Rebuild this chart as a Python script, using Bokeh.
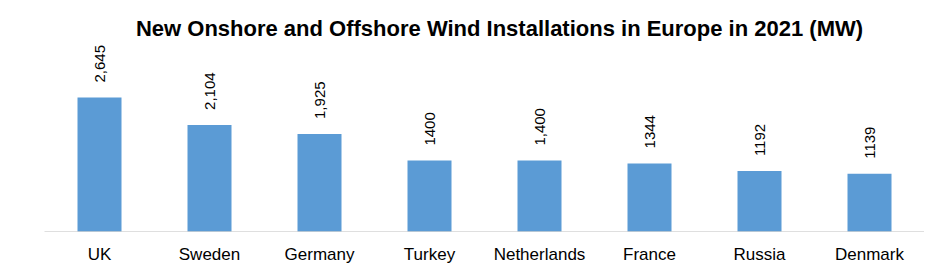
from bokeh.plotting import figure
from bokeh.models import ColumnDataSource, FactorRange, Range1d, Label, Span
from bokeh.embed import file_html
from bokeh.resources import INLINE
from bokeh.core.properties import value
import math

countries = ["UK", "Sweden", "Germany", "Turkey", "Netherlands", "France", "Russia", "Denmark"]
installs = [2645, 2104, 1925, 1400, 1400, 1344, 1192, 1139]
value_labels = ["2,645", "2,104", "1,925", "1400", "1,400", "1344", "1192", "1139"]
title_text = "New Onshore and Offshore Wind Installations in Europe in 2021 (MW)"

src = ColumnDataSource(dict(x=countries, top=installs, lbl=value_labels,
                            base=[0] * len(countries)))

p = figure(width=941, height=263, output_backend="svg", toolbar_location=None,
           x_range=FactorRange(factors=countries, range_padding=0),
           y_range=Range1d(-632, 4560), title=None,
           x_axis_location=None, y_axis_location=None,
           min_border_left=44, min_border_right=17, min_border_top=0, min_border_bottom=0)

p.vbar(x="x", top="top", width=0.4, source=src, color="#5B9BD5", line_color=None)
p.text(x="x", y="top", text="lbl", source=src, angle=math.pi / 2,
       text_align="left", text_baseline="middle", y_offset=-15,
       text_font=value("Liberation Sans"), text_font_size="15px", text_color="#000000")

p.add_layout(Span(location=0, dimension="width", line_color="#bfbfbf",
                  line_dash="1 1", line_width=1))

p.text(x="x", y="base", text="x", source=src, text_align="center",
       text_baseline="top", y_offset=14,
       text_font=value("Liberation Sans"), text_font_size="17px", text_color="#000000")

p.add_layout(Label(x=455, y=235, x_units="screen", y_units="screen", text=title_text,
                   text_align="center", text_baseline="middle",
                   text_font="Liberation Sans", text_font_style="bold",
                   text_font_size="22px", text_color="#000000"))

p.xgrid.grid_line_color = None
p.ygrid.grid_line_color = None
p.outline_line_color = None
p.background_fill_color = "white"
p.border_fill_color = "white"

open("out.html", "w").write(file_html(p, INLINE))
